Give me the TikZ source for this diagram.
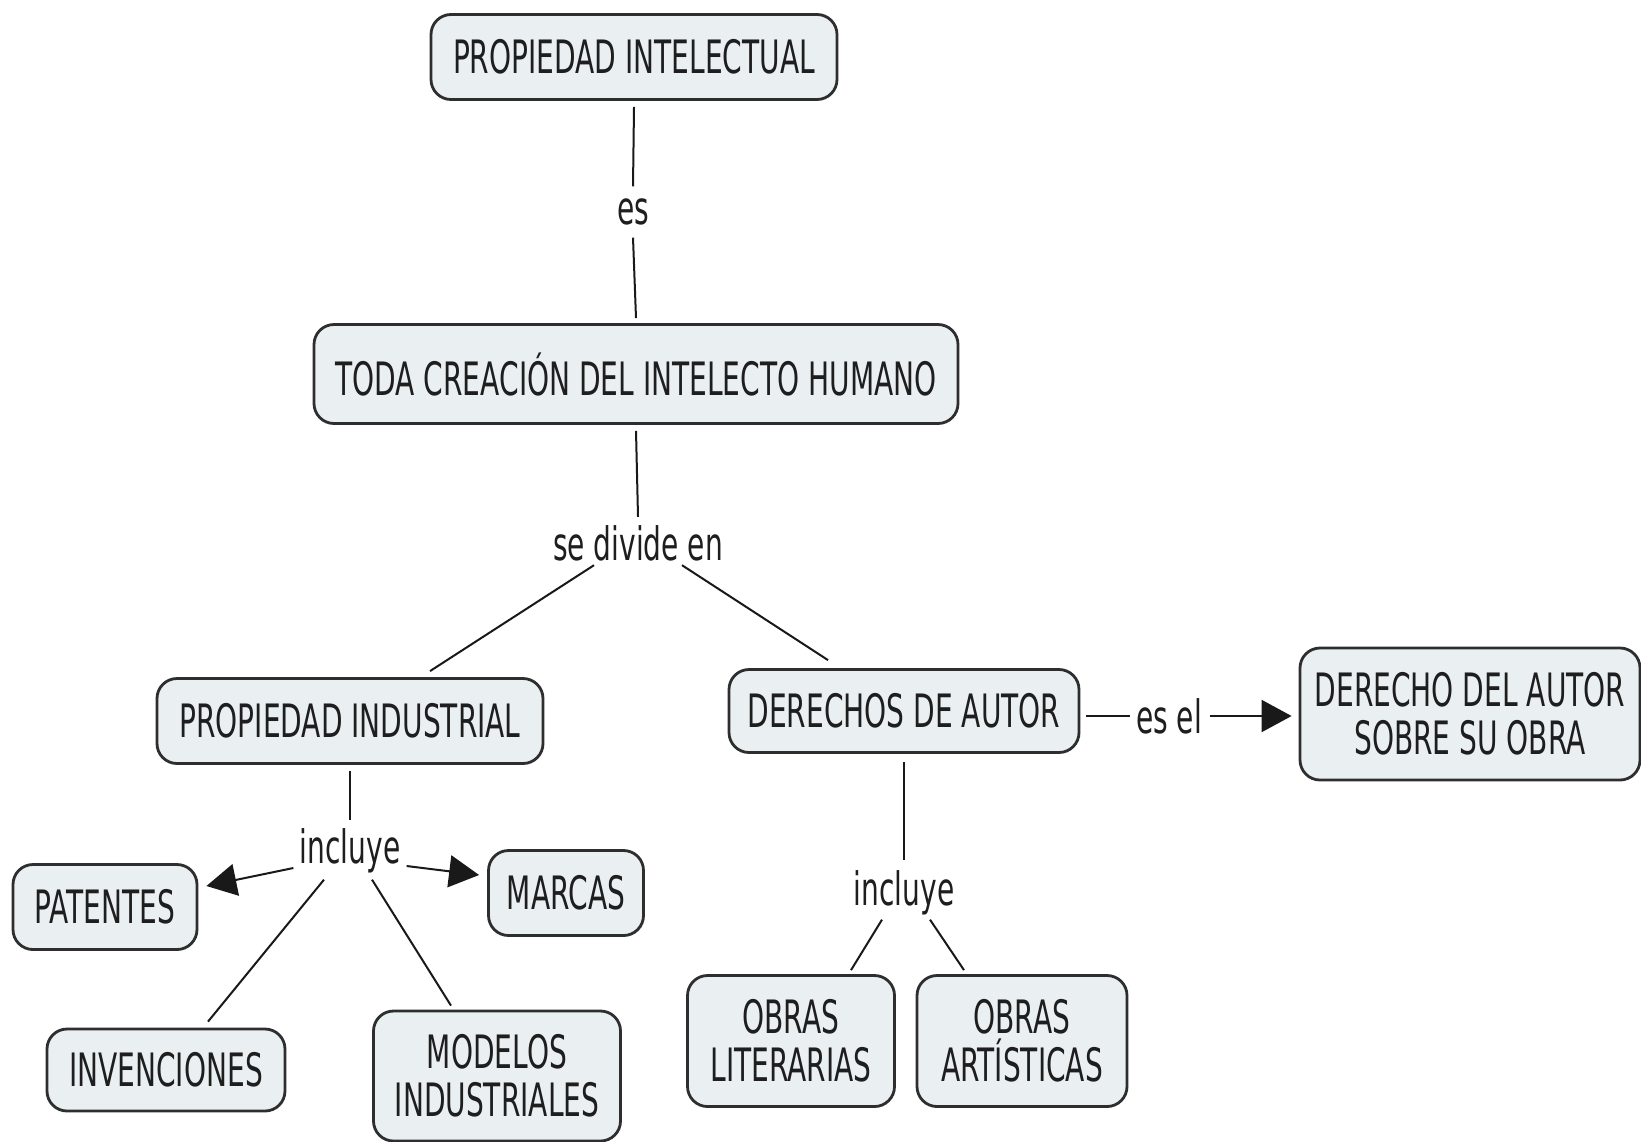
\documentclass[tikz,border=0pt]{standalone}
\usepackage{fontspec}
\setmainfont{DejaVu Sans}[FakeStretch=0.61]
\usetikzlibrary{arrows.meta}
\definecolor{boxfill}{HTML}{EAF0F2}
\definecolor{boxline}{HTML}{2E2E2E}
\definecolor{txt}{HTML}{1E1E1E}
\tikzset{
  concept/.style={draw=boxline, line width=1.4pt, fill=boxfill, rounded corners=10pt,
    align=center, inner sep=0pt, text=txt, font=\fontsize{23}{24}\selectfont},
  lbl/.style={inner sep=1pt, text=txt, font=\fontsize{23}{24}\selectfont},
  link/.style={draw=black!90, line width=1pt},
  arr/.style={link, -{Triangle[length=15pt,width=16pt]}}
}
\begin{document}
\begin{tikzpicture}[x=0.5pt,y=-0.5pt]
\useasboundingbox (0,0) rectangle (1641,1141);
% concepts
\node[concept, minimum width=203pt, minimum height=42.5pt] (pi) at (634,57) {PROPIEDAD INTELECTUAL};
\node[concept, minimum width=322pt, minimum height=49.5pt] (toda) at (636,374) {TODA CREACIÓN DEL INTELECTO HUMANO};
\node[concept, minimum width=193pt, minimum height=42.5pt] (pind) at (350,721) {PROPIEDAD INDUSTRIAL};
\node[concept, minimum width=175pt, minimum height=41.5pt] (da) at (904,711) {DERECHOS DE AUTOR};
\node[concept, minimum width=170pt, minimum height=66pt] (dda) at (1470,714) {DERECHO DEL AUTOR\\SOBRE SU OBRA};
\node[concept, minimum width=92pt, minimum height=42.5pt] (pat) at (105,907) {PATENTES};
\node[concept, minimum width=77.5pt, minimum height=42.5pt] (mar) at (566,893) {MARCAS};
\node[concept, minimum width=119pt, minimum height=41pt] (inv) at (166,1070) {INVENCIONES};
\node[concept, minimum width=123.5pt, minimum height=65pt] (mod) at (497,1076) {MODELOS\\INDUSTRIALES};
\node[concept, minimum width=103.5pt, minimum height=65.5pt] (lit) at (791,1041) {OBRAS\\LITERARIAS};
\node[concept, minimum width=105pt, minimum height=65.5pt] (art) at (1022,1041) {OBRAS\\ARTÍSTICAS};
% linking phrases
\node[lbl] (es) at (633,212) {es};
\node[lbl] (sdiv) at (638,543) {se divide en};
\node[lbl] (inc1) at (350,851) {incluye};
\node[lbl] (inc2) at (904,893) {incluye};
\node[lbl] (esel) at (1169,716) {es el};
% connectors
\draw[link] ([yshift=-3pt]pi.south) -- ([yshift=5pt]es.north);
\draw[link] ([yshift=-5pt]es.south) -- ([yshift=2.5pt]toda.north);
\draw[link] ([yshift=-3pt]toda.south) -- ([yshift=3pt]sdiv.north);
\draw[link] ([xshift=-22pt,yshift=-1pt]sdiv.south) -- ([xshift=40pt,yshift=3pt]pind.north);
\draw[link] ([xshift=22pt,yshift=-1pt]sdiv.south) -- ([xshift=-38pt,yshift=4pt]da.north);
\draw[link] ([yshift=-3pt]pind.south) -- ([yshift=3pt]inc1.north);
\draw[arr] ([xshift=-2pt,yshift=-8.5pt]inc1.west) -- ([xshift=4pt,yshift=10.5pt]pat.east);
\draw[arr] ([xshift=2pt,yshift=-7.5pt]inc1.east) -- ([xshift=-4pt,yshift=9pt]mar.west);
\draw[link] ([xshift=-13pt,yshift=-2pt]inc1.south) -- ([xshift=21pt,yshift=3pt]inv.north);
\draw[link] ([xshift=11pt,yshift=-2pt]inc1.south) -- ([xshift=-23pt,yshift=2pt]mod.north);
\draw[link] ([yshift=-4pt]da.south) -- ([yshift=4pt]inc2.north);
\draw[link] ([xshift=-11pt,yshift=-1pt]inc2.south) -- ([xshift=30pt,yshift=2pt]lit.north);
\draw[link] ([xshift=13pt,yshift=-1pt]inc2.south) -- ([xshift=-29pt,yshift=2pt]art.north);
\draw[link, shorten <=3pt, shorten >=2pt] (esel.west -| da.east) -- (esel.west);
\draw[arr, shorten <=3pt, shorten >=3.5pt] (esel.east) -- (esel.east -| dda.west);
\end{tikzpicture}
\end{document}
